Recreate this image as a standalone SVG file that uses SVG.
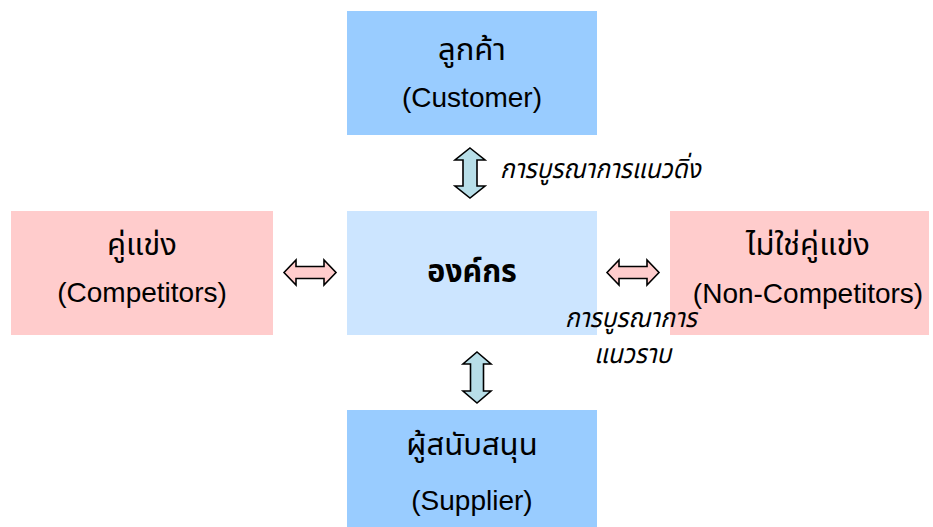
<svg xmlns="http://www.w3.org/2000/svg" width="933" height="527" viewBox="0 0 933 527">
  <style>
    .t { font-family: "Liberation Sans", "Noto Sans Thai", "Noto Sans", sans-serif; font-size: 28px; fill: #000; text-anchor: middle; }
    .th { font-size: 31px; }
    .b { font-weight: bold; font-size: 31px; }
    .lbl { font-family: "Liberation Sans", "Noto Sans Thai", "Noto Sans", sans-serif; font-size: 27px; font-style: italic; fill: #000; }
    .blue { fill: #99CCFF; }
    .pale { fill: #CCE5FF; }
    .pink { fill: #FFCCCC; }
    .av { fill: #B7DEE8; stroke: #000; stroke-width: 1.6; stroke-linejoin: miter; }
    .ah { fill: #FFCCCC; stroke: #000; stroke-width: 1.6; stroke-linejoin: miter; }
  </style>

  <g id="customer">
    <rect class="blue" x="347" y="11" width="250" height="124"/>
    <text class="t th" x="472" y="60">ลูกค้า</text>
    <text class="t" x="472" y="107">(Customer)</text>
  </g>

  <g id="competitors">
    <rect class="pink" x="11" y="211" width="262" height="124"/>
    <text class="t th" x="142" y="255">คู่แข่ง</text>
    <text class="t" x="142" y="302">(Competitors)</text>
  </g>

  <g id="organization">
    <rect class="pale" x="347" y="211" width="250" height="124"/>
    <text class="t b" transform="translate(472,282) scale(0.98,1)">องค์กร</text>
  </g>

  <g id="non-competitors">
    <rect class="pink" x="670" y="211" width="259" height="124"/>
    <text class="t th" x="808" y="255">ไม่ใช่คู่แข่ง</text>
    <text class="t" x="808" y="303">(Non-Competitors)</text>
  </g>

  <g id="supplier">
    <rect class="blue" x="347" y="410" width="250" height="117"/>
    <text class="t th" x="472" y="455">ผู้สนับสนุน</text>
    <text class="t" x="472" y="510">(Supplier)</text>
  </g>

  <g id="connectors">
    <!-- vertical integration: customer to organization -->
    <path class="av" d="M470,148 L485,160 L477,160 L477,186 L485,186 L470,198 L455,186 L463,186 L463,160 L455,160 Z"/>
    <!-- competitors to organization -->
    <path class="ah" d="M284,272.5 L296,260 L296,266.5 L324,266.5 L324,260 L336,272.5 L324,285 L324,278.5 L296,278.5 L296,285 Z"/>
    <!-- organization to non-competitors -->
    <path class="ah" d="M607,272.5 L619,260 L619,266.5 L647,266.5 L647,260 L659,272.5 L647,285 L647,278.5 L619,278.5 L619,285 Z"/>
    <!-- organization to supplier -->
    <path class="av" d="M477,352 L491,364 L483.5,364 L483.5,391 L491,391 L477,403 L463,391 L470.5,391 L470.5,364 L463,364 Z"/>
  </g>

  <g id="labels">
    <text class="lbl" transform="translate(500,178) scale(0.905,1)">การบูรณาการแนวดิ่ง</text>
    <text class="lbl" transform="translate(565,327) scale(0.905,1)">การบูรณาการ</text>
    <text class="lbl" transform="translate(594,363) scale(0.905,1)">แนวราบ</text>
  </g>
</svg>
